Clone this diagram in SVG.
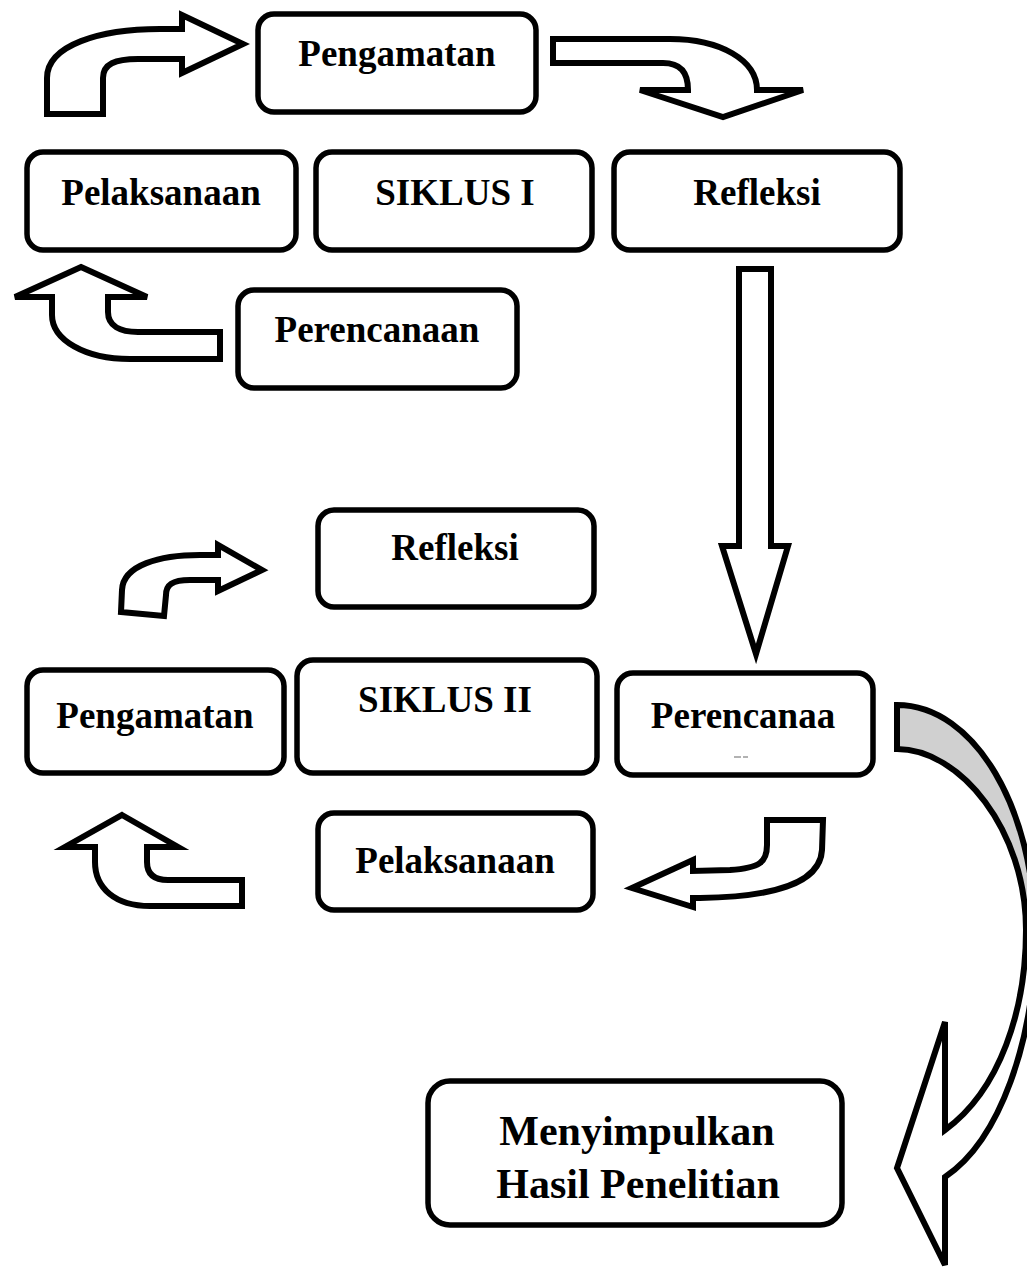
<svg xmlns="http://www.w3.org/2000/svg" width="1027" height="1281" viewBox="0 0 1027 1281">
<style>
.box{fill:#fff;stroke:#000;stroke-width:5.5}
.arr{fill:#fff;stroke:#000;stroke-width:6;stroke-linejoin:miter}
.lbl{font-family:"Liberation Serif","Times New Roman",serif;font-weight:bold;font-size:37px;fill:#000;text-anchor:middle}
.big{font-size:42px}
</style>
<rect width="1027" height="1281" fill="#fff"/>
<g id="connectors">
<path class="arr" d="M47,114 L47,78 C47,45 100,29 160,29 L182,29 L182,15 L243,44 L182,73 L182,59 L138,59 C115,59 103,64 103,78 L103,114 Z"/>
<path class="arr" d="M553,39 L670,39 C720,39 757,60 757,90 L803,90 L723,117 L640,90 L688,90 C688,72 680,63 663,63 L553,63 Z"/>
<path class="arr" d="M81,267 L147,297 L108,297 L108,312 C108,326 120,332 138,332 L220,332 L220,359 L130,359 C85,359 52,340 52,315 L52,297 L15,297 Z"/>
<path class="arr" d="M739,269 L771,269 L771,546 L788,546 L756,654 L722,546 L739,546 Z"/>
<path class="arr" d="M121,612 L122,590 C123,565 160,555 200,555 L218,555 L218,545 L262,570 L218,591 L218,580 L190,580 C172,580 166,585 166,595 L164,616 Z"/>
<path class="arr" d="M122,815 L178,847 L147,847 L147,862 C147,874 154,880 168,880 L242,880 L242,906 L150,906 C115,906 95,888 95,862 L95,847 L65,847 Z"/>
<path class="arr" d="M767,820 L823,820 L822,850 C820,885 770,897 700,898 L693,898 L693,907 L632,888 L693,860 L693,871 L730,870 C760,868 767,862 767,845 Z"/>
<path class="arr" style="fill:#d0d0d0" d="M897,705 C975,705 1035,810 1035,935 L1040,935 L1026,930 C1026,830 960,749 897,749 Z"/>
<path class="arr" d="M1026,930 C1026,1010 1000,1090 945,1130 L945,1022 L897,1168 L945,1265 L945,1177 C1000,1140 1035,1040 1035,935 L1040,935 Z"/>
</g>
<g id="n-pengamatan1"><rect class="box" x="258" y="14" width="278" height="98" rx="16"/><text class="lbl" x="397" y="66">Pengamatan</text></g>
<g id="n-pelaksanaan1"><rect class="box" x="27" y="152" width="269" height="98" rx="16"/><text class="lbl" x="161" y="205">Pelaksanaan</text></g>
<g id="n-siklus1"><rect class="box" x="316" y="152" width="276" height="98" rx="16"/><text class="lbl" x="455" y="205">SIKLUS I</text></g>
<g id="n-refleksi1"><rect class="box" x="614" y="152" width="286" height="98" rx="16"/><text class="lbl" x="757" y="205">Refleksi</text></g>
<g id="n-perencanaan1"><rect class="box" x="238" y="290" width="279" height="98" rx="16"/><text class="lbl" x="377" y="342">Perencanaan</text></g>
<g id="n-refleksi2"><rect class="box" x="318" y="510" width="276" height="97" rx="16"/><text class="lbl" x="455" y="560">Refleksi</text></g>
<g id="n-pengamatan2"><rect class="box" x="27" y="670" width="257" height="103" rx="16"/><text class="lbl" x="155" y="728">Pengamatan</text></g>
<g id="n-siklus2"><rect class="box" x="297" y="660" width="300" height="113" rx="16"/><text class="lbl" x="445" y="712">SIKLUS II</text></g>
<g id="n-perencanaan2"><rect class="box" x="617" y="673" width="256" height="102" rx="16"/><text class="lbl" x="743" y="728">Perencanaa</text><path d="M734,757 h7 M743,757 h5" stroke="#999" stroke-width="1.5"/></g>
<g id="n-pelaksanaan2"><rect class="box" x="318" y="813" width="275" height="97" rx="16"/><text class="lbl" x="455" y="873">Pelaksanaan</text></g>
<g id="n-menyimpulkan"><rect class="box" x="428" y="1081" width="414" height="144" rx="22"/><text class="lbl big" x="637" y="1145">Menyimpulkan</text><text class="lbl big" x="638" y="1198">Hasil Penelitian</text></g>
</svg>
